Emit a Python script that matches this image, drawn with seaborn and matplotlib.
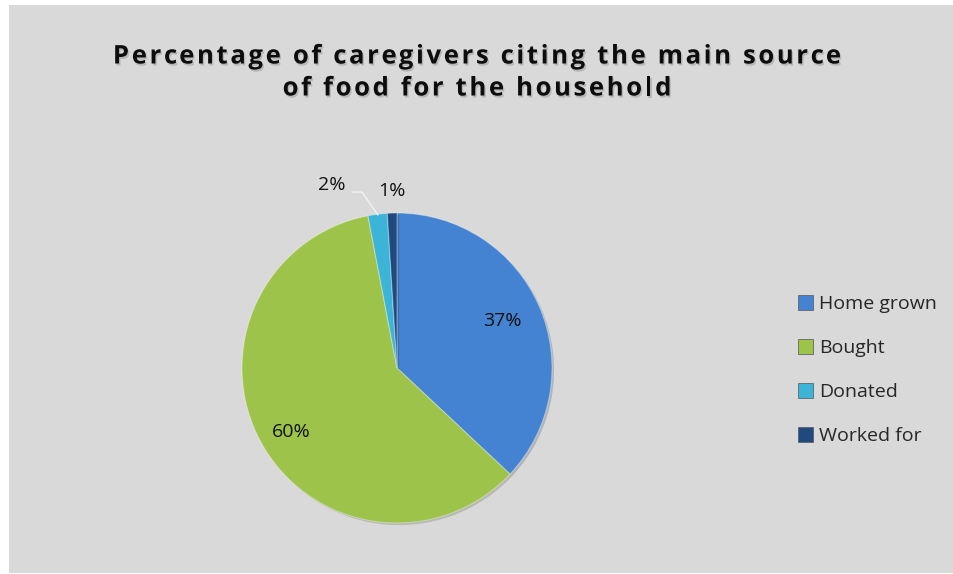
import matplotlib
matplotlib.use("Agg")
import matplotlib.pyplot as plt
import matplotlib.patheffects as pe
from matplotlib.patches import Rectangle, Patch
import seaborn as sns

sources = ["Home grown", "Bought", "Donated", "Worked for"]
percent = [37, 60, 2, 1]
pct_labels = ["37%", "60%", "2%", "1%"]
title_lines = ["Percentage of caregivers citing the main source", "of food for the household"]

sns.set_style("white")
plt.rcParams['font.family'] = ['Open Sans', 'DejaVu Sans']

colors = sns.color_palette(["#4383d2", "#9dc34a", "#3cb4d8", "#1f4a80"])

W, H = 954, 574
fig = plt.figure(figsize=(W / 100, H / 100), dpi=100, facecolor="white")
fig.patches.append(Rectangle((9 / W, 1 / H), 944 / W, 568 / H, transform=fig.transFigure,
                             facecolor="#d9d9d9", edgecolor="none", zorder=-10))

cx, cy, r = 397, 368, 155
ax = fig.add_axes([(cx - r) / W, (H - cy - r) / H, 2 * r / W, 2 * r / H])
ax.set_facecolor("none")
wedges, _ = ax.pie(percent, colors=colors, startangle=90, counterclock=False,
                   wedgeprops=dict(edgecolor=(1, 1, 1, 0.35), linewidth=0.8))
for w in wedges:
    w.set_path_effects([pe.SimplePatchShadow(offset=(1.5, -1.5), alpha=0.2), pe.Normal()])
ax.set_xlim(-1, 1)
ax.set_ylim(-1, 1)
ax.set_aspect("equal")
ax.axis("off")

label_pos = [(0.68, 0.30), (-0.68, -0.41), (-0.42, 1.18), (-0.03, 1.145)]
for (x, y), t in zip(label_pos, pct_labels):
    ax.text(x, y, t, ha="center", va="center", fontsize=14, color="#111111", clip_on=False)
ax.plot([-0.29, -0.226, -0.123], [1.135, 1.135, 0.987], color="#f2f2f2", lw=1, clip_on=False)

handles = [Patch(facecolor=c, edgecolor="#555555", linewidth=0.5) for c in colors]
fig.legend(handles, sources, loc="center left", bbox_to_anchor=(790 / W, (H - 370) / H),
           frameon=False, fontsize=14, handlelength=0.8, handleheight=0.8,
           handletextpad=0.3, labelspacing=1.33, borderaxespad=0)

# title with letter spacing
renderer = fig.canvas.get_renderer()
tkw = dict(fontsize=18.5, fontweight="bold", color="#0d0d0d")
shadow = [pe.SimplePatchShadow(offset=(1, -1.5), alpha=0.15, shadow_rgbFace="black"), pe.Normal()]


def text_width(s):
    t = fig.text(0, 0, s + "|", **tkw)
    w1 = t.get_window_extent(renderer).width
    t.remove()
    t = fig.text(0, 0, "|", **tkw)
    w2 = t.get_window_extent(renderer).width
    t.remove()
    return w1 - w2


spacing = 2.6
for i, line in enumerate(title_lines):
    total = text_width(line) + spacing * (len(line) - 1)
    x0 = 477 - total / 2
    y = H - (56 + 32 * i)
    for j, ch in enumerate(line):
        if ch == " ":
            continue
        x = x0 + text_width(line[:j]) + spacing * j
        fig.text(x / W, y / H, ch, ha="left", va="center", path_effects=shadow, **tkw)

fig.savefig("out.png", dpi=100, facecolor="white")
